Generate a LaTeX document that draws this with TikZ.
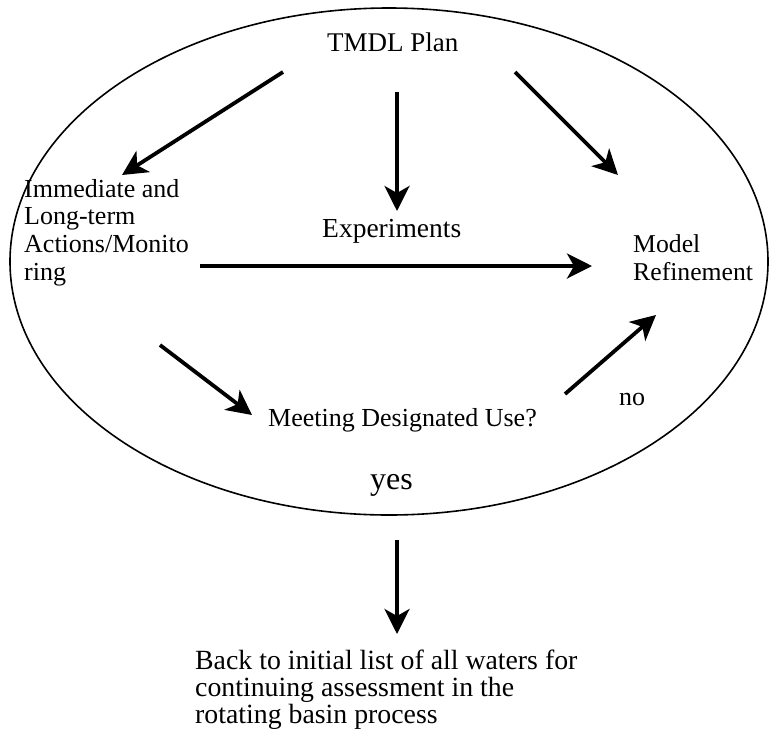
\documentclass[tikz,border=0pt]{standalone}
\usepackage{fontspec}
\setmainfont{Liberation Serif}
\usetikzlibrary{arrows.meta,shapes.geometric}
\begin{document}
\begin{tikzpicture}[x=1pt,y=-1pt,
  arr/.style={line width=3.8pt,-{Stealth[length=25pt,width=25pt,inset=7pt]}},
  lbl/.style={inner sep=0pt,anchor=base west},
  blk/.style={inner sep=0pt,anchor=north west,align=left}]
\useasboundingbox (0,0) rectangle (770,734);
% loop
\node[draw,line width=1.6pt,ellipse,inner sep=0pt,minimum width=758pt,minimum height=507pt] (loop) at (389,261.5) {};
% texts
\node[lbl,font=\fontsize{27pt}{30pt}\selectfont] (tmdl) at (327,51) {TMDL Plan};
\node[lbl,font=\fontsize{27.5pt}{30pt}\selectfont] (exp) at (322,237) {Experiments};
\node[blk,font=\fontsize{26pt}{27.7pt}\selectfont] (imm) at (24,179) {Immediate and\\Long-term\\Actions/Monito\\ring};
\node[blk,font=\fontsize{25.7pt}{28pt}\selectfont] (model) at (633,234.5) {Model\\Refinement};
\node[lbl,font=\fontsize{26pt}{28pt}\selectfont] (meet) at (268,426) {Meeting Designated Use?};
\node[lbl,font=\fontsize{26pt}{28pt}\selectfont] (no) at (619,405) {no};
\node[lbl,font=\fontsize{32pt}{34pt}\selectfont] (yes) at (370,489) {yes};
\node[blk,font=\fontsize{27.8pt}{26.7pt}\selectfont] (back) at (195,650) {Back to initial list of all waters for\\continuing assessment in the\\rotating basin process};
% connector ends
\coordinate (t1) at (283,72);  \coordinate (h1) at (122,175);
\coordinate (t2) at (397,92);  \coordinate (h2) at (397,211);
\coordinate (t3) at (515,72);  \coordinate (h3) at (618,175);
\coordinate (t4) at (200,266); \coordinate (h4) at (592,266);
\coordinate (t5) at (160,345); \coordinate (h5) at (252,415);
\coordinate (t6) at (565,394); \coordinate (h6) at (656,315);
\coordinate (t7) at (397,540); \coordinate (h7) at (397,634);
\draw[arr] (t1) -- (h1);
\draw[arr] (t2) -- (h2);
\draw[arr] (t3) -- (h3);
\draw[arr] (t4) -- (h4);
\draw[arr] (t5) -- (h5);
\draw[arr] (t6) -- (h6);
\draw[arr] (t7) -- (h7);
\end{tikzpicture}
\end{document}
